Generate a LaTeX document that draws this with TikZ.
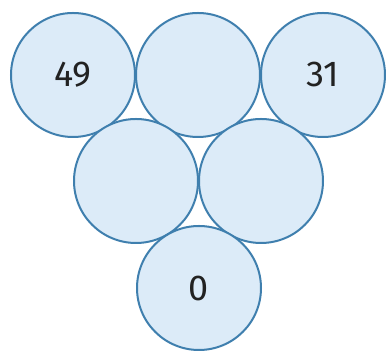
\documentclass[tikz,border=0pt]{standalone}
\usepackage{fontspec}
\setmainfont{Fira Sans}
\definecolor{cfill}{HTML}{DCEBF8}
\definecolor{cline}{HTML}{3F7FAE}
\definecolor{ctext}{HTML}{222222}
\begin{document}
\begin{tikzpicture}[x=0.5pt,y=-0.5pt,
  ball/.style={circle,draw=cline,fill=cfill,line width=1pt,minimum size=62pt,inner sep=0pt,
    font=\fontsize{18}{20}\selectfont,text=ctext}]
\useasboundingbox (0,0) rectangle (386,351);
\node[ball] (a) at (73,75) {49};
\node[ball] (b) at (198,75) {};
\node[ball] (c) at (323,75) {31};
\node[ball] (d) at (136,181) {};
\node[ball] (e) at (261,181) {};
\node[ball] (f) at (199,288) {0};
\end{tikzpicture}
\end{document}
